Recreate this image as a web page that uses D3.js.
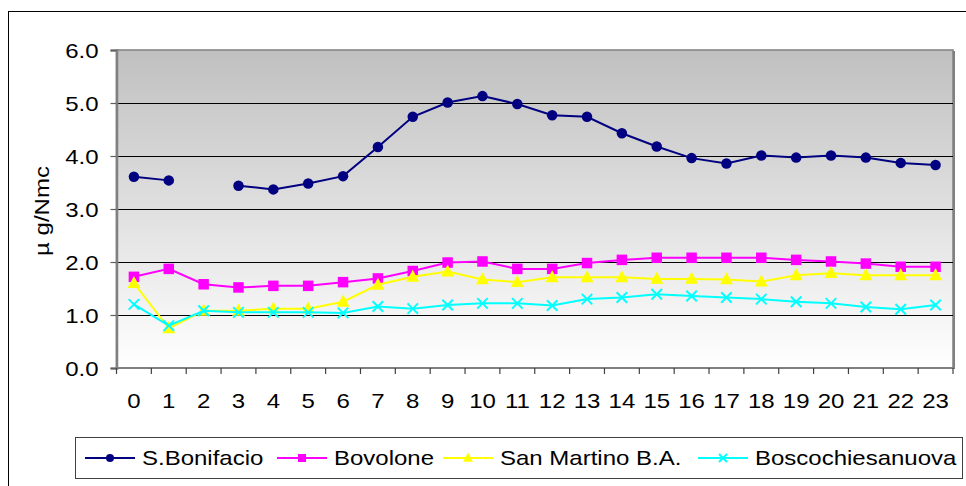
<!DOCTYPE html>
<html>
<head>
<meta charset="utf-8">
<script src="https://cdn.jsdelivr.net/npm/d3@7"></script>
<style>
  html, body { margin: 0; padding: 0; background: #fff; }
  svg { display: block; }
  text { font-family: "Liberation Sans", Arial, sans-serif; fill: #000; }
</style>
</head>
<body>
<svg id="chart" width="966" height="486"></svg>
<script>
// Hourly concentration profiles (µg/Nmc) per station
const hours = d3.range(0, 24).map(String);
const yTicks = [0, 1, 2, 3, 4, 5, 6];

const sBonifacio = [3.61, 3.54, null, 3.44, 3.37, 3.48, 3.62, 4.17, 4.74, 5.01, 5.13, 4.98,
                    4.77, 4.74, 4.43, 4.18, 3.96, 3.86, 4.01, 3.97, 4.01, 3.97, 3.87, 3.83];
const bovolone   = [1.72, 1.87, 1.58, 1.52, 1.55, 1.55, 1.62, 1.69, 1.83, 1.99, 2.01, 1.87,
                    1.87, 1.98, 2.04, 2.08, 2.08, 2.08, 2.08, 2.04, 2.01, 1.97, 1.91, 1.91];
const sanMartino = [1.60, 0.75, 1.08, 1.08, 1.12, 1.12, 1.25, 1.57, 1.72, 1.82, 1.67, 1.62,
                    1.71, 1.71, 1.71, 1.68, 1.68, 1.67, 1.63, 1.75, 1.79, 1.75, 1.75, 1.75];
const bosco      = [1.20, 0.80, 1.08, 1.05, 1.05, 1.05, 1.04, 1.16, 1.12, 1.19, 1.22, 1.22,
                    1.18, 1.30, 1.33, 1.39, 1.36, 1.33, 1.30, 1.25, 1.22, 1.15, 1.11, 1.19];

const seriesNames  = ["S.Bonifacio", "Bovolone", "San Martino B.A.", "Boscochiesanuova"];
const seriesColors = ["#000080", "#FF00FF", "#FFFF00", "#00FFFF"];
const seriesShapes = ["circle", "square", "triangle", "cross"];
const seriesValues = [sBonifacio, bovolone, sanMartino, bosco];

const yTitle = "\u00B5 g/Nmc";

const svg = d3.select("#chart");
const W = 966, H = 486;
const plot = { left: 116.5, right: 953, top: 50, bottom: 368 };
const SX = 1.2; // horizontal stretch of the label glyphs

const x = d3.scaleBand().domain(hours).range([plot.left, plot.right]).padding(0);
const y = d3.scaleLinear().domain([0, 6]).range([plot.bottom, plot.top]);

// Outer chart frame
svg.append("rect")
  .attr("x", 8.5).attr("y", 11.5).attr("width", 1000).attr("height", 600)
  .attr("fill", "#fff").attr("stroke", "#000").attr("stroke-width", 1);

// Plot background gradient
const defs = svg.append("defs");
const grad = defs.append("linearGradient").attr("id", "bg")
  .attr("x1", 0).attr("y1", 0).attr("x2", 0).attr("y2", 1);
grad.append("stop").attr("offset", "0%").attr("stop-color", "#c0c0c0");
grad.append("stop").attr("offset", "100%").attr("stop-color", "#ffffff");

// Shadow on the plot area's right edge
svg.append("rect")
  .attr("x", plot.left + 2).attr("y", plot.top + 1)
  .attr("width", plot.right - plot.left).attr("height", plot.bottom - plot.top)
  .attr("fill", "#808080");

svg.append("rect")
  .attr("x", plot.left).attr("y", plot.top)
  .attr("width", plot.right - plot.left).attr("height", plot.bottom - plot.top)
  .attr("fill", "url(#bg)")
  .attr("stroke", "#808080").attr("stroke-width", 1.5);

// Horizontal gridlines
svg.append("g").selectAll("line")
  .data(yTicks.filter(d => d > 0 && d < 6))
  .join("line")
  .attr("x1", plot.left).attr("x2", plot.right)
  .attr("y1", d => Math.round(y(d)) + 0.5).attr("y2", d => Math.round(y(d)) + 0.5)
  .attr("stroke", "#000").attr("stroke-width", 1);

// Y axis
const yAxis = svg.append("g")
  .attr("transform", `translate(${plot.left},0)`)
  .call(d3.axisLeft(y).tickValues(yTicks).tickFormat(d3.format(".1f")).tickSize(6).tickPadding(10));
yAxis.select(".domain").attr("stroke", "#808080").attr("stroke-width", 2.5);
yAxis.selectAll(".tick line").attr("stroke", "#606060").attr("stroke-width", 1.2);
yAxis.selectAll(".tick text")
  .attr("font-size", 20).attr("dy", "0.36em")
  .attr("transform", `scale(${SX},1)`)
  .attr("x", -18 / SX);

// X axis with tick marks on the category boundaries
const xAxisG = svg.append("g").attr("transform", `translate(0,${plot.bottom})`);
xAxisG.append("line")
  .attr("x1", plot.left).attr("x2", plot.right + 1)
  .attr("y1", 0).attr("y2", 0)
  .attr("stroke", "#808080").attr("stroke-width", 2);
const bounds = d3.range(0, hours.length + 1).map(i => i < hours.length ? x(hours[i]) : x(hours[hours.length - 1]) + x.bandwidth());
xAxisG.selectAll("line.tk").data(bounds).join("line").attr("class", "tk")
  .attr("x1", d => d).attr("x2", d => d).attr("y1", 0).attr("y2", 6)
  .attr("stroke", "#404040").attr("stroke-width", 1.2);
xAxisG.selectAll("text").data(hours).join("text")
  .attr("transform", d => `translate(${x(d) + x.bandwidth() / 2},40) scale(${SX},1)`)
  .attr("text-anchor", "middle").attr("font-size", 20)
  .text(d => d);

// Y axis title
svg.append("text")
  .attr("transform", `translate(49,211) rotate(-90) scale(${SX},1)`)
  .attr("text-anchor", "middle").attr("font-size", 20)
  .text(yTitle);

// Marker drawing
function marker(g, shape, color, size) {
  if (shape === "circle") {
    g.append("circle").attr("r", size * 0.5).attr("fill", color);
  } else if (shape === "square") {
    g.append("rect").attr("x", -size * 0.5).attr("y", -size * 0.5)
      .attr("width", size).attr("height", size).attr("fill", color);
  } else if (shape === "triangle") {
    const s = size * 0.62;
    g.append("path").attr("d", `M0,${-s * 1.1}L${s},${s * 0.75}L${-s},${s * 0.75}Z`).attr("fill", color);
  } else if (shape === "cross") {
    const s = size * 0.5;
    g.append("path").attr("d", `M${-s},${-s}L${s},${s}M${-s},${s}L${s},${-s}`)
      .attr("stroke", color).attr("stroke-width", 2).attr("fill", "none");
  }
}

const line = d3.line()
  .defined(d => d.v != null)
  .x(d => x(d.h) + x.bandwidth() / 2)
  .y(d => y(d.v));

seriesValues.forEach((vals, i) => {
  const data = hours.map((h, k) => ({ h, v: vals[k] }));
  const g = svg.append("g");
  g.append("path").datum(data)
    .attr("d", line).attr("fill", "none")
    .attr("stroke", seriesColors[i]).attr("stroke-width", 2);
  data.filter(d => d.v != null).forEach(d => {
    const m = g.append("g").attr("transform", `translate(${x(d.h) + x.bandwidth() / 2},${y(d.v)})`);
    marker(m, seriesShapes[i], seriesColors[i], 10.5);
  });
});

// Legend
const legend = svg.append("g");
legend.append("rect")
  .attr("x", 75.5).attr("y", 437.5).attr("width", 887).attr("height", 41)
  .attr("fill", "#fff").attr("stroke", "#404040").attr("stroke-width", 1);
const legendX = [85, 277, 443, 698];
seriesNames.forEach((name, i) => {
  const lg = legend.append("g").attr("transform", `translate(${legendX[i]},458)`);
  lg.append("line").attr("x1", 0).attr("x2", 50).attr("y1", 0).attr("y2", 0)
    .attr("stroke", seriesColors[i]).attr("stroke-width", 2);
  const m = lg.append("g").attr("transform", "translate(25,0)");
  marker(m, seriesShapes[i], seriesColors[i], 8);
  lg.append("text")
    .attr("transform", `translate(57,7) scale(${SX},1)`)
    .attr("font-size", 20).text(name);
});
</script>
</body>
</html>
